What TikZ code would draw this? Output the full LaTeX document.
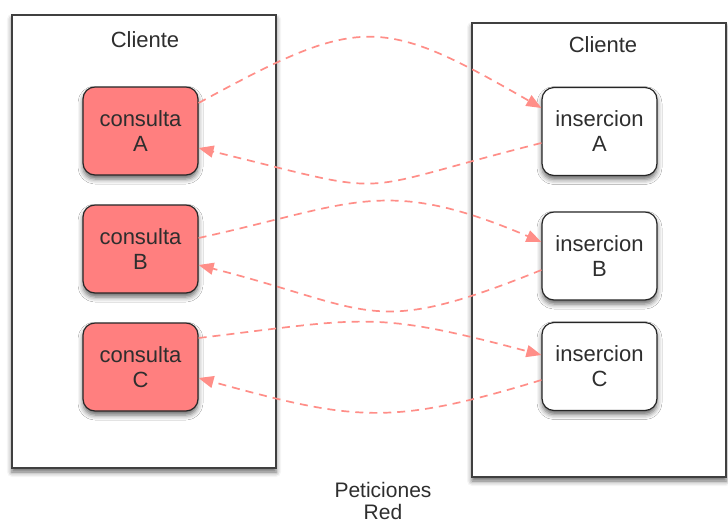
\documentclass[tikz,border=0pt]{standalone}
\usepackage{fontspec}
\setmainfont{Liberation Sans}
\usetikzlibrary{arrows.meta,shadows.blur}
\definecolor{consultared}{HTML}{FF7F7F}
\definecolor{peticionred}{HTML}{FF8E88}
\definecolor{texto}{HTML}{2E2E2E}

\begin{document}
\begin{tikzpicture}[x=1pt,y=-1pt,
      font=\fontsize{22}{25}\selectfont,text=texto,
      sombra/.style={blur shadow={shadow xshift=0pt,shadow yshift=-4pt,
        shadow blur radius=5pt,shadow opacity=60}},
      cliente/.style={rectangle,draw=black!75,line width=1.6pt,fill=white,sombra},
      tarea/.style={rectangle,draw=black!85,line width=1.2pt,rounded corners=12pt,
        minimum width=115pt,minimum height=88pt,inner sep=0pt,align=center,sombra},
      consulta/.style={tarea,fill=consultared},
      insercion/.style={tarea,fill=white},
      peticion/.style={draw=peticionred,line width=1.7pt,dash pattern=on 8pt off 6pt,
        -{Triangle[length=15pt,width=12pt]}}]
      \useasboundingbox (0,0) rectangle (728,525);
      % Clients
      \node[cliente,minimum width=264pt,minimum height=453pt] (izq) at (144,241.5) {};
      \node[cliente,minimum width=254pt,minimum height=454pt] (der) at (599,250) {};
      \node (tizq) at (145,40) {Cliente};
      \node (tder) at (603,45) {Cliente};
      % Queries and inserts
      \node[consulta] (cA) at (140.5,131) {consulta\\A};
      \node[consulta] (cB) at (140.5,249) {consulta\\B};
      \node[consulta] (cC) at (140.5,367) {consulta\\C};
      \node[insercion] (iA) at (599.5,131.5) {insercion\\A};
      \node[insercion] (iB) at (599.5,256) {insercion\\B};
      \node[insercion] (iC) at (599.5,366.5) {insercion\\C};
      \node[align=center,inner sep=0pt,font=\fontsize{21}{22}\selectfont] (red) at (383,501) {Peticiones\\Red};
      % Requests
      \draw[peticion] ([yshift=28pt]cA.east) .. controls (360,15) and (380,15) .. ([yshift=23.5pt]iA.west);
      \draw[peticion] ([yshift=-11.5pt]iA.west) .. controls (342,193) and (403,198) .. ([yshift=-17pt]cA.east);
      \draw[peticion] ([yshift=11pt]cB.east) .. controls (354,204) and (384,175) .. ([yshift=14pt]iB.west);
      \draw[peticion] ([yshift=-14pt]iB.west) .. controls (370,339) and (375,310) .. ([yshift=-16pt]cB.east);
      \draw[peticion] ([yshift=29pt]cC.east) .. controls (366,318) and (372,310) .. ([yshift=11.5pt]iC.west);
      \draw[peticion] ([yshift=-13.5pt]iC.west) .. controls (390,426) and (355,421) .. ([yshift=-11pt]cC.east);
    \end{tikzpicture}
\end{document}
